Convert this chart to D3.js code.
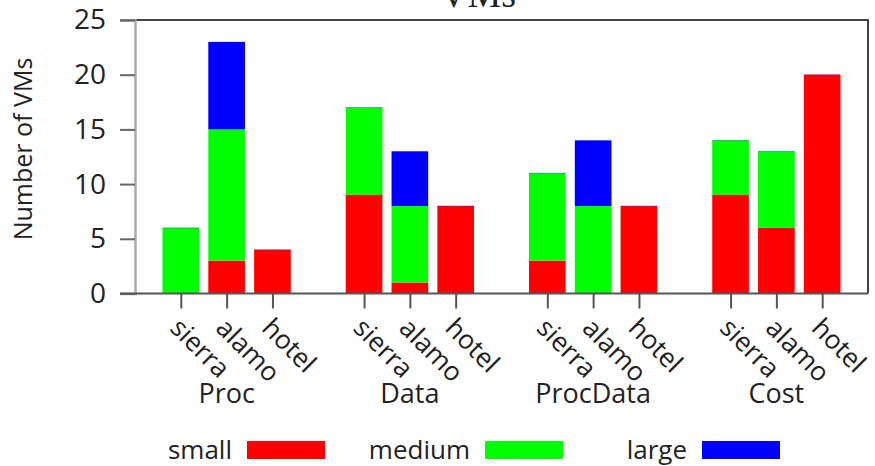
<!DOCTYPE html>
<html>
<head>
<meta charset="utf-8">
<script src="https://cdn.jsdelivr.net/npm/d3@7"></script>
<style>
  html, body { margin: 0; padding: 0; background: #fff; }
  svg { display: block; font-family: "Open Sans", sans-serif; }
</style>
</head>
<body>
<svg id="chart" width="875" height="466"></svg>
<script>
// Workloads (outer groups) and hosts (bars within each group)
const groups = ["Proc", "Data", "ProcData", "Cost"];
const hosts = ["sierra", "alamo", "hotel"];

// VM counts per bar, ordered group by group, host by host
const small  = [0, 3, 4,  9, 1, 8,  3, 0, 8,  9, 6, 20];
const medium = [6, 12, 0, 8, 7, 0,  8, 8, 0,  5, 7, 0];
const large  = [0, 8, 0,  0, 5, 0,  0, 6, 0,  0, 0, 0];

const seriesNames = ["small", "medium", "large"];
const seriesColors = ["#ff0000", "#00ff00", "#0000ff"];
const yTicks = [0, 5, 10, 15, 20, 25];

const svg = d3.select("#chart");
const m = { left: 135, right: 868, top: 20, bottom: 293.5 };

// Bars sit on slots 0,1,2 / 4,5,6 / 8,9,10 / 12,13,14
const rows = [];
groups.forEach((g, gi) => hosts.forEach((h, hi) => {
  const i = gi * hosts.length + hi;
  rows.push({ group: g, host: h, slot: gi * (hosts.length + 1) + hi,
              small: small[i], medium: medium[i], large: large[i] });
}));

const x = d3.scaleLinear().domain([-1, 15]).range([m.left, m.right]);
const y = d3.scaleLinear().domain([0, 25]).range([m.bottom, m.top]);
const barW = x(0.8) - x(0);

const stack = d3.stack().keys(seriesNames);
const layers = stack(rows);
const color = d3.scaleOrdinal().domain(seriesNames).range(seriesColors);

// Stacked bars
const layerG = svg.append("g").selectAll("g").data(layers).join("g")
  .attr("fill", d => color(d.key));
layerG.selectAll("rect").data(d => d.filter(s => s[1] > s[0])).join("rect")
  .attr("x", d => x(d.data.slot) - barW / 2)
  .attr("width", barW)
  .attr("y", d => y(d[1]))
  .attr("height", d => y(d[0]) - y(d[1]));

// Empty "large" segments still leave a faint edge on top of the bar
svg.append("g").selectAll("rect")
  .data(layers[2].filter(s => s[1] === s[0] && s[1] > 0)).join("rect")
  .attr("x", d => x(d.data.slot) - barW / 2)
  .attr("width", barW)
  .attr("y", d => y(d[1]) - 0.5)
  .attr("height", 1)
  .attr("fill", "#0000ff")
  .attr("opacity", 0.35);

// Frame: top and right border
svg.append("path")
  .attr("d", `M${m.left - 15},${m.top}H${m.right}V${m.bottom}`)
  .attr("fill", "none").attr("stroke", "#444").attr("stroke-width", 2);

// Y axis
const yAxis = d3.axisLeft(y).tickValues(yTicks).tickSize(15).tickPadding(14);
const yg = svg.append("g").attr("transform", `translate(${m.left},0)`).call(yAxis);
yg.select(".domain").attr("stroke", "#aaa").attr("stroke-width", 2.5);
yg.selectAll(".tick line").attr("stroke", "#666").attr("stroke-width", 2);
yg.selectAll(".tick text").attr("font-size", 28).attr("fill", "#222")
  .attr("font-family", "Open Sans, sans-serif");

// X axis with host ticks
const slots = rows.map(r => r.slot);
const xAxis = d3.axisBottom(x).tickValues(slots).tickSize(15).tickFormat("");
const xg = svg.append("g").attr("transform", `translate(0,${m.bottom})`).call(xAxis);
xg.select(".domain").attr("d", `M${m.left - 15},0H${m.right}`)
  .attr("stroke", "#555").attr("stroke-width", 2);
xg.selectAll(".tick line").attr("stroke", "#555").attr("stroke-width", 2);

// Rotated host labels
svg.append("g").selectAll("text").data(rows).join("text")
  .attr("transform", d => `translate(${x(d.slot) + 2},${m.bottom + 22}) rotate(45)`)
  .attr("dy", "0.75em")
  .attr("font-size", 26.5)
  .attr("fill", "#222")
  .text(d => d.host);

// Group labels under the middle bar
svg.append("g").selectAll("text").data(groups).join("text")
  .attr("x", (g, gi) => x(gi * (hosts.length + 1) + 1))
  .attr("y", 403)
  .attr("text-anchor", "middle")
  .attr("font-size", 27)
  .attr("fill", "#222")
  .text(d => d);

// Y axis title
svg.append("text")
  .attr("transform", "translate(32,149) rotate(-90)")
  .attr("text-anchor", "middle")
  .attr("font-size", 25)
  .attr("fill", "#222")
  .text("Number of VMs");

// Chart title (cut by the top edge)
svg.append("text")
  .attr("x", 478).attr("y", 7)
  .attr("text-anchor", "middle")
  .attr("font-family", "Liberation Serif, serif")
  .attr("font-size", 38)
  .attr("fill", "#222")
  .text("VMs");

// Legend
const legendX = [232, 470, 687];
const lg = svg.append("g").selectAll("g").data(seriesNames).join("g")
  .attr("transform", (d, i) => `translate(${legendX[i]},0)`);
lg.append("text")
  .attr("x", 0).attr("y", 459)
  .attr("text-anchor", "end")
  .attr("font-size", 26)
  .attr("fill", "#222")
  .text(d => d);
lg.append("rect")
  .attr("x", 15).attr("y", 441)
  .attr("width", 78).attr("height", 18)
  .attr("fill", d => color(d));
</script>
</body>
</html>
